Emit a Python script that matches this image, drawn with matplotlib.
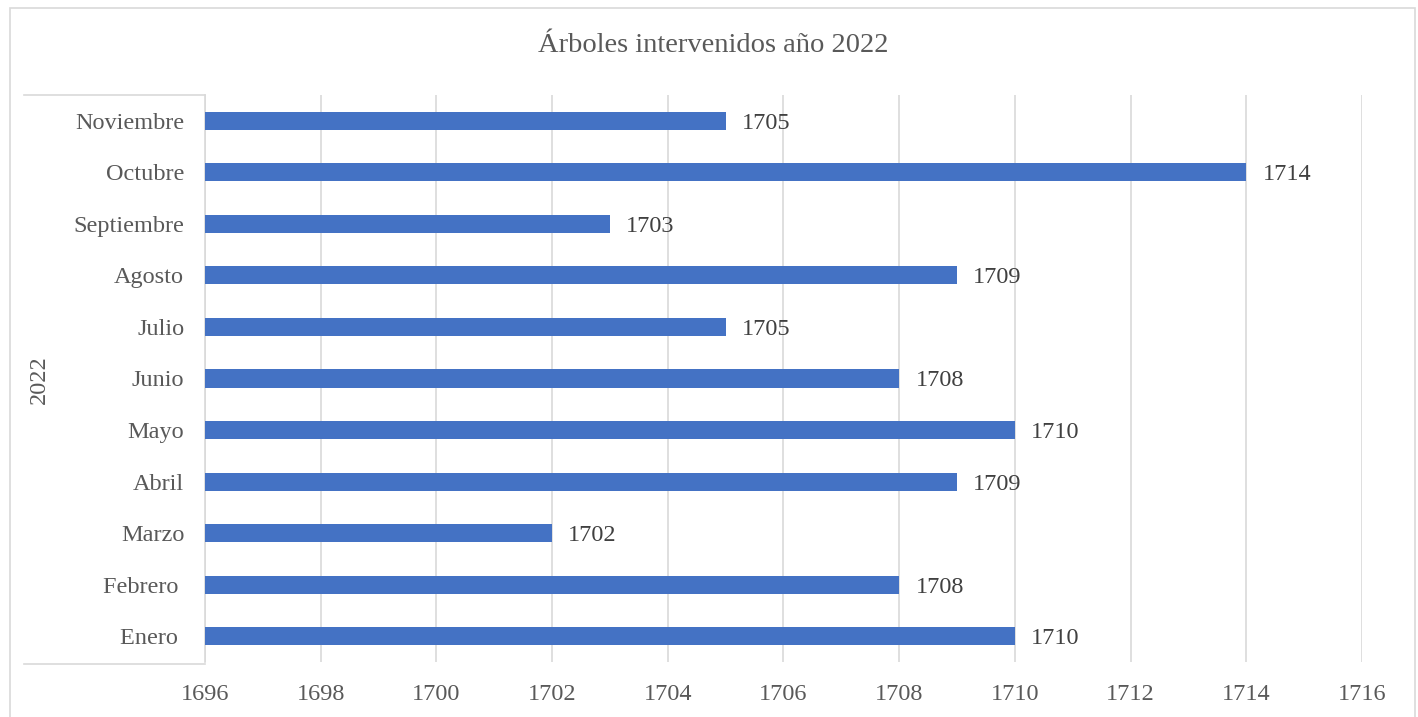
import matplotlib.pyplot as plt
from matplotlib.patches import Rectangle
from matplotlib.lines import Line2D
import numpy as np

plt.rcParams['font.family'] = ['Liberation Serif', 'DejaVu Serif']

# the first two month names carry a trailing space in the source sheet
months = ['Enero ', 'Febrero ', 'Marzo', 'Abril', 'Mayo', 'Junio',
          'Julio', 'Agosto', 'Septiembre', 'Octubre', 'Noviembre']
trees = [1710, 1708, 1702, 1709, 1710, 1708, 1705, 1709, 1703, 1714, 1705]
group_label = '2022'
x_min, x_max = 1696, 1716

fig = plt.figure(figsize=(14.18, 7.17), dpi=100)
ax = fig.add_axes([205 / 1418, 1 - 662 / 717, (1362 - 205) / 1418, (662 - 95) / 717])

ind = np.arange(len(months))
ax.barh(ind, np.array(trees) - x_min, left=x_min, height=0.35, color='#4472c4', zorder=3)

for i, v in enumerate(trees):
    ax.text(v + 0.28, i, str(v), va='center_baseline', ha='left', fontsize=17.5, color='#404040')

ax.set_xlim(x_min, x_max)
ax.set_ylim(-0.5, len(months) - 0.5)
ax.set_xticks(np.arange(x_min, x_max + 1, 2))
ax.set_yticks(ind)
ax.set_yticklabels(months)
ax.tick_params(axis='both', length=0, labelsize=17.5, labelcolor='#595959')
ax.tick_params(axis='x', pad=16)
ax.tick_params(axis='y', pad=15)
for lbl in ax.get_yticklabels():
    lbl.set_verticalalignment('center_baseline')
ax.grid(axis='x', color='#d9d9d9', linewidth=1.2, zorder=0)
for s in ['top', 'right', 'bottom']:
    ax.spines[s].set_visible(False)
ax.spines['left'].set_color('#d9d9d9')
ax.spines['left'].set_linewidth(1.2)

# group bracket lines
fig.add_artist(Line2D([24 / 1418, 205 / 1418], [1 - 95 / 717] * 2, color='#d9d9d9', lw=1.2))
fig.add_artist(Line2D([24 / 1418, 205 / 1418], [1 - 664 / 717] * 2, color='#d9d9d9', lw=1.2))
fig.text(39 / 1418, 1 - 380 / 717, group_label, rotation=90, va='center', ha='center',
         fontsize=17.5, color='#595959')

# chart border
fig.add_artist(Rectangle((10 / 1418, -0.01), 1405 / 1418, 1 - 8 / 717 + 0.01,
                         fill=False, edgecolor='#d9d9d9', lw=1.2, transform=fig.transFigure))

fig.text(713 / 1418, 1 - 46 / 717, 'Árboles intervenidos año 2022', ha='center', va='center',
         fontsize=20.5, color='#595959')

fig.savefig('out.png', dpi=100)
